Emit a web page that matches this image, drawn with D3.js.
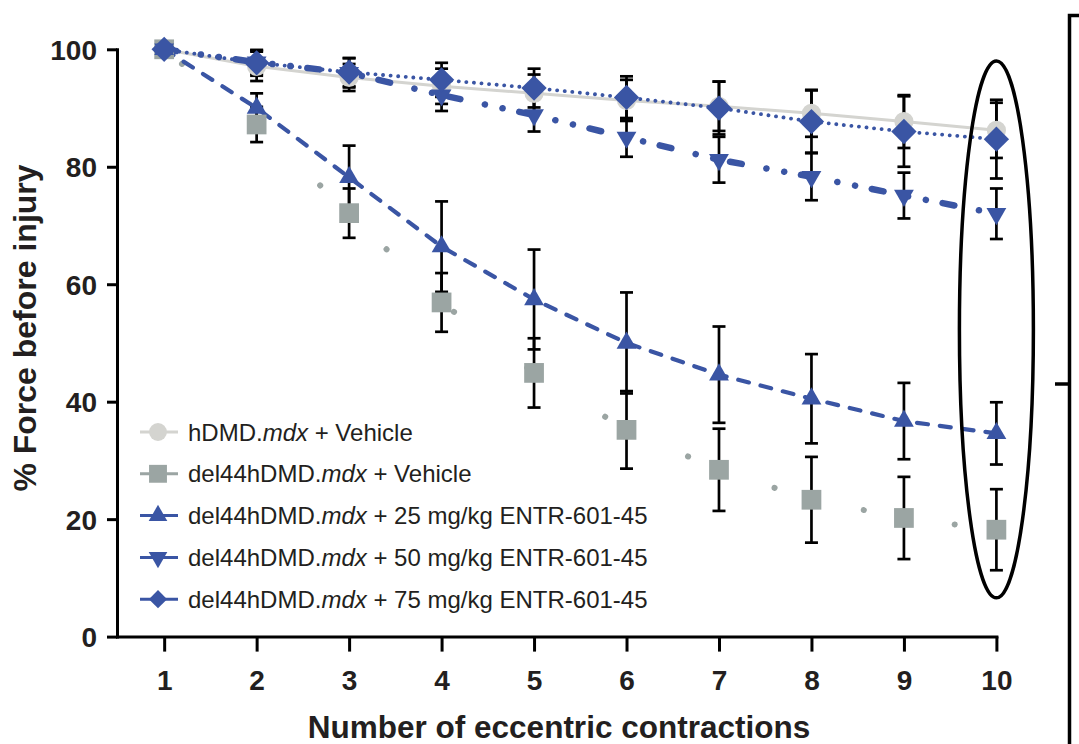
<!DOCTYPE html>
<html>
<head>
<meta charset="utf-8">
<script src="https://cdn.jsdelivr.net/npm/d3@7"></script>
<style>
  html, body { margin: 0; padding: 0; background: #fff; }
  svg { display: block; font-family: "Liberation Sans", Arial, Helvetica, sans-serif; }
  .axis text { fill: #231f20; font-weight: bold; font-size: 28px; }
  .axis path, .axis line { stroke: #000; stroke-width: 3; }
</style>
</head>
<body>
<div id="chart"></div>
<script>
// number of eccentric contractions
const contractions = [1, 2, 3, 4, 5, 6, 7, 8, 9, 10];
const yTicks = [0, 20, 40, 60, 80, 100];

// % force before injury, mean and SEM per contraction
const hdmdVehicle      = [100, 97.1, 95.2, 93.7, 92.5, 91.3, 90.3, 89.1, 87.7, 86.2];
const hdmdVehicleSem   = [0, 2.5, 2.3, 3.0, 3.2, 3.5, 4.2, 4.0, 4.5, 4.7];
const delVehicle       = [100, 87.2, 72.1, 56.9, 44.9, 35.2, 28.4, 23.3, 20.2, 18.2];
const delVehicleSem    = [0, 3.0, 4.2, 5.0, 5.9, 6.6, 7.0, 7.3, 7.0, 6.9];
const del25            = [100, 90.0, 78.2, 66.4, 57.4, 50.0, 44.6, 40.5, 36.7, 34.6];
const del25Sem         = [0, 2.5, 5.4, 7.7, 8.5, 8.6, 8.2, 7.6, 6.5, 5.3];
const del50            = [100, 97.8, 96.0, 92.2, 88.8, 85.0, 81.2, 78.3, 75.1, 72.0];
const del50Sem         = [0, 2.0, 2.5, 2.7, 2.8, 3.3, 3.9, 4.0, 3.9, 4.3];
const del75            = [100, 97.7, 96.1, 94.8, 93.4, 91.8, 90.0, 87.7, 86.0, 84.7];
const del75Sem         = [0, 2.2, 2.4, 2.9, 3.3, 3.6, 4.5, 5.3, 6.0, 6.7];

// ring drawn around the last contraction (in data units)
const ringAt = 10, ringMid = 52.3, ringHalfSpan = 45.7, ringHalfWidth = 0.4;

const blue = '#3a55a4';

const series = [
  { pre: 'hDMD.', post: ' + Vehicle', values: hdmdVehicle, sem: hdmdVehicleSem,
    color: '#d4d4d0', symbol: d3.symbolCircle, size: 290, legendSize: 250, rotate: 0,
    width: 3, dash: null, cap: 'butt' },
  { pre: 'del44hDMD.', post: ' + Vehicle', values: delVehicle, sem: delVehicleSem,
    color: '#9ba5a3', symbol: d3.symbolSquare, size: 390, legendSize: 320, rotate: 0,
    width: 6, dash: '0.1,92', offset: -23, cap: 'round' },
  { pre: 'del44hDMD.', post: ' + 25 mg/kg ENTR-601-45', values: del25, sem: del25Sem,
    color: blue, symbol: d3.symbolTriangle, size: 170, legendSize: 150, rotate: 0,
    width: 4.2, dash: '11,12', cap: 'round' },
  { pre: 'del44hDMD.', post: ' + 50 mg/kg ENTR-601-45', values: del50, sem: del50Sem,
    color: blue, symbol: d3.symbolTriangle, size: 170, legendSize: 150, rotate: 180,
    width: 6.5, dash: '12,25,0.1,18,0.1,17', cap: 'round' },
  { pre: 'del44hDMD.', post: ' + 75 mg/kg ENTR-601-45', values: del75, sem: del75Sem,
    color: blue, symbol: d3.symbolSquare, size: 320, legendSize: 165, rotate: 45,
    width: 3.8, dash: '0.1,7.5', cap: 'round' }
];

const width = 1079, height = 744;

const svg = d3.select('#chart').append('svg')
  .attr('width', width)
  .attr('height', height)
  .attr('viewBox', `0 0 ${width} ${height}`);

const x = d3.scaleLinear().domain([0.49, 10]).range([117, 996.4]);
const y = d3.scaleLinear().domain([0, 100]).range([636.6, 49.3]);

// error bars first, markers sit on top of them
const capHalf = 6.5;
const bars = svg.append('g').attr('stroke', '#000').attr('stroke-width', 2.7).attr('fill', 'none');
series.forEach(s => {
  s.values.forEach((v, i) => {
    const e = s.sem[i];
    if (!e) return;
    const cx = x(contractions[i]);
    const top = y(v + e), bot = y(v - e);
    bars.append('line').attr('x1', cx).attr('x2', cx).attr('y1', top).attr('y2', bot);
    bars.append('line').attr('x1', cx - capHalf).attr('x2', cx + capHalf).attr('y1', top).attr('y2', top);
    bars.append('line').attr('x1', cx - capHalf).attr('x2', cx + capHalf).attr('y1', bot).attr('y2', bot);
  });
});

const line = d3.line()
  .x((d, i) => x(contractions[i]))
  .y(d => y(d));

series.forEach(s => {
  svg.append('path')
    .datum(s.values)
    .attr('fill', 'none')
    .attr('stroke', s.color)
    .attr('stroke-width', s.width)
    .attr('stroke-linecap', s.cap)
    .attr('stroke-dasharray', s.dash)
    .attr('stroke-dashoffset', s.offset || 0)
    .attr('d', line);
});

series.forEach(s => {
  svg.append('g').selectAll('path')
    .data(s.values)
    .enter()
    .append('path')
      .attr('fill', s.color)
      .attr('transform', (d, i) => `translate(${x(contractions[i])},${y(d)}) rotate(${s.rotate})`)
      .attr('d', d3.symbol().type(s.symbol).size(s.size));
});

// axes
const yAxis = d3.axisLeft(y).tickValues(yTicks).tickSize(10).tickSizeOuter(0).tickPadding(10);
const yG = svg.append('g').attr('class', 'axis').attr('transform', `translate(${x.range()[0]},0)`).call(yAxis);
yG.selectAll('text').attr('x', -20).attr('dy', '0.36em');

const xAxis = d3.axisBottom(x).tickValues(contractions).tickSize(15).tickSizeOuter(0);
const xG = svg.append('g').attr('class', 'axis').attr('transform', `translate(0,${y(0)})`).call(xAxis);
xG.selectAll('text').attr('y', 53.4).attr('dy', 0);
svg.selectAll('.axis .domain').attr('stroke-linecap', 'square');

svg.append('text')
  .attr('x', 559).attr('y', 738)
  .attr('text-anchor', 'middle')
  .attr('font-size', 31.5).attr('font-weight', 'bold').attr('fill', '#231f20')
  .text('Number of eccentric contractions');

svg.append('text')
  .attr('transform', 'translate(36,328) rotate(-90)')
  .attr('text-anchor', 'middle')
  .attr('font-size', 32).attr('font-weight', 'bold').attr('fill', '#231f20')
  .text('% Force before injury');

// legend
const legend = svg.append('g').attr('transform', 'translate(140,432)');
series.forEach((s, i) => {
  const row = legend.append('g').attr('transform', `translate(0,${i * 41.8})`);
  row.append('line').attr('x1', 0).attr('x2', 38).attr('stroke', s.color).attr('stroke-width', 3);
  row.append('path')
    .attr('fill', s.color)
    .attr('transform', `translate(18,0) rotate(${s.rotate})`)
    .attr('d', d3.symbol().type(s.symbol).size(s.legendSize));
  const t = row.append('text')
    .attr('x', 48).attr('dy', '0.36em')
    .attr('font-size', 24).attr('fill', '#231f20');
  t.append('tspan').text(s.pre);
  t.append('tspan').attr('font-style', 'italic').text('mdx');
  t.append('tspan').text(s.post);
});

// ring around contraction 10
svg.append('ellipse')
  .attr('cx', x(ringAt))
  .attr('cy', y(ringMid))
  .attr('rx', x(ringAt + ringHalfWidth) - x(ringAt))
  .attr('ry', y(0) - y(ringHalfSpan))
  .attr('fill', 'none')
  .attr('stroke', '#000')
  .attr('stroke-width', 3.5);

// edge of the neighbouring panel
const edge = svg.append('g').attr('stroke', '#000').attr('stroke-width', 3.5).attr('fill', 'none');
edge.append('path').attr('d', 'M1080,15.5H1069.5V744');
edge.append('line').attr('x1', 1055).attr('x2', 1069.5).attr('y1', 384).attr('y2', 384);
</script>
</body>
</html>
